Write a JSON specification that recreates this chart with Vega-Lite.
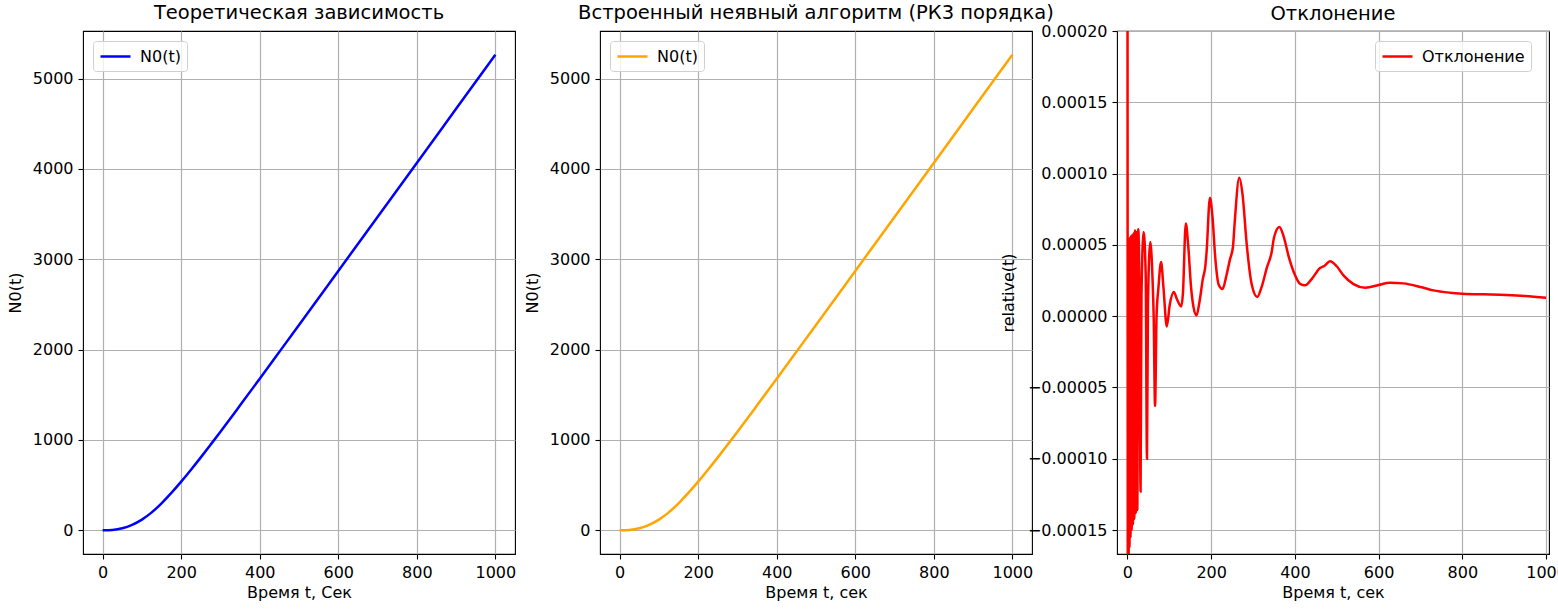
{
  "$schema": "https://vega.github.io/schema/vega-lite/v6.json",
  "padding": {"left": 6, "top": 1, "right": 0, "bottom": 0},
  "background": "white",
  "config": {
    "font": "DejaVu Sans",
    "view": {"stroke": "black", "strokeWidth": 1.1},
    "title": {"fontSize": 19.5, "font": "DejaVu Sans", "fontWeight": "normal", "color": "black", "offset": 5, "dy": -3, "anchor": "middle"},
    "axis": {
      "labelFont": "DejaVu Sans", "labelFontSize": 16, "labelColor": "black",
      "titleFont": "DejaVu Sans", "titleFontSize": 16, "titleFontWeight": "normal", "titleColor": "black",
      "tickColor": "black", "tickSize": 5, "tickWidth": 1.1,
      "gridColor": "#b0b0b0", "gridWidth": 1.2, "gridOpacity": 1,
      "domain": false, "labelPadding": 5, "titlePadding": 4,
      "labelFlush": false, "labelOverlap": false
    },
    "legend": {
      "labelFont": "DejaVu Sans", "labelFontSize": 16, "labelColor": "black",
      "symbolType": "M-1.875,0H1.875", "symbolSize": 256, "symbolStrokeWidth": 2.5,
      "symbolOffset": 7, "labelOffset": 15, "padding": 6, "cornerRadius": 3,
      "fillColor": "rgba(255,255,255,0.8)", "strokeColor": "#d0d0d0",
      "title": null
    }
  },
  "datasets": {
    "n0": [
      {"t": 0, "N0": 0}, {"t": 25, "N0": 4}, {"t": 50, "N0": 22}, {"t": 75, "N0": 60},
      {"t": 100, "N0": 118}, {"t": 125, "N0": 198}, {"t": 150, "N0": 298}, {"t": 175, "N0": 413},
      {"t": 200, "N0": 538}, {"t": 225, "N0": 670}, {"t": 250, "N0": 807}, {"t": 275, "N0": 948},
      {"t": 300, "N0": 1091}, {"t": 350, "N0": 1383}, {"t": 400, "N0": 1678}, {"t": 450, "N0": 1975},
      {"t": 500, "N0": 2273}, {"t": 600, "N0": 2871}, {"t": 700, "N0": 3469}, {"t": 800, "N0": 4067},
      {"t": 900, "N0": 4666}, {"t": 1000, "N0": 5265}
    ],
    "dev": [
      {"t": 0, "rel": 3.0e-4}, {"t": 0.8, "rel": -2.0e-4}, {"t": 1.8, "rel": 5.2e-5}, {"t": 2.8, "rel": -1.75e-4},
      {"t": 3.8, "rel": 5.4e-5}, {"t": 4.8, "rel": -1.62e-4}, {"t": 6, "rel": 5.5e-5}, {"t": 7.2, "rel": -1.55e-4},
      {"t": 8.6, "rel": 5.6e-5}, {"t": 10, "rel": -1.5e-4}, {"t": 11.5, "rel": 5.7e-5}, {"t": 13, "rel": -1.46e-4},
      {"t": 14.7, "rel": 5.8e-5}, {"t": 16.3, "rel": -1.42e-4}, {"t": 18, "rel": 6.0e-5}, {"t": 20, "rel": -1.38e-4},
      {"t": 22, "rel": 5.9e-5}, {"t": 23.5, "rel": -1.36e-4}, {"t": 25.7, "rel": 6.1e-5}, {"t": 28.5, "rel": 2.0e-5},
      {"t": 31.3, "rel": -1.23e-4}, {"t": 33.5, "rel": 1.5e-5}, {"t": 38.6, "rel": 5.9e-5}, {"t": 43.5, "rel": 3.0e-5},
      {"t": 46.6, "rel": -1.0e-4}, {"t": 49, "rel": 1.0e-5}, {"t": 54.6, "rel": 5.2e-5}, {"t": 60, "rel": 2.5e-5},
      {"t": 62.6, "rel": 0.0}, {"t": 65.9, "rel": -6.3e-5}, {"t": 69.5, "rel": 0.0}, {"t": 74, "rel": 2.0e-5},
      {"t": 80.3, "rel": 3.8e-5}, {"t": 86, "rel": 2.0e-5}, {"t": 94, "rel": -0.72e-5}, {"t": 101, "rel": 0.8e-5},
      {"t": 110.8, "rel": 1.7e-5}, {"t": 118, "rel": 1.2e-5}, {"t": 128.5, "rel": 0.68e-5}, {"t": 132.5, "rel": 1.6e-5},
      {"t": 139.3, "rel": 6.5e-5}, {"t": 145, "rel": 5.0e-5}, {"t": 152, "rel": 2.0e-5}, {"t": 158, "rel": 0.6e-5},
      {"t": 165, "rel": 0.05e-5}, {"t": 172, "rel": 1.0e-5}, {"t": 180, "rel": 2.6e-5}, {"t": 186, "rel": 3.5e-5},
      {"t": 189, "rel": 4.5e-5}, {"t": 197, "rel": 8.3e-5}, {"t": 203, "rel": 7.0e-5}, {"t": 210, "rel": 4.0e-5},
      {"t": 218, "rel": 2.2e-5}, {"t": 227, "rel": 1.9e-5}, {"t": 236, "rel": 2.8e-5}, {"t": 245, "rel": 4.0e-5},
      {"t": 252, "rel": 4.85e-5}, {"t": 256, "rel": 6.5e-5}, {"t": 267, "rel": 9.7e-5}, {"t": 275, "rel": 8.5e-5},
      {"t": 285, "rel": 5.0e-5}, {"t": 297, "rel": 2.2e-5}, {"t": 310, "rel": 1.35e-5}, {"t": 320, "rel": 2.0e-5},
      {"t": 333, "rel": 3.4e-5}, {"t": 344.5, "rel": 4.5e-5}, {"t": 350, "rel": 5.5e-5}, {"t": 363, "rel": 6.25e-5},
      {"t": 373, "rel": 5.6e-5}, {"t": 385, "rel": 4.2e-5}, {"t": 400, "rel": 2.9e-5}, {"t": 412, "rel": 2.28e-5},
      {"t": 424, "rel": 2.16e-5}, {"t": 440, "rel": 2.6e-5}, {"t": 460, "rel": 3.38e-5}, {"t": 470, "rel": 3.52e-5},
      {"t": 484, "rel": 3.85e-5}, {"t": 500, "rel": 3.5e-5}, {"t": 516, "rel": 2.86e-5}, {"t": 540, "rel": 2.25e-5},
      {"t": 568, "rel": 2.0e-5}, {"t": 600, "rel": 2.18e-5}, {"t": 627, "rel": 2.35e-5}, {"t": 659, "rel": 2.3e-5},
      {"t": 700, "rel": 2.05e-5}, {"t": 731, "rel": 1.81e-5}, {"t": 770, "rel": 1.65e-5}, {"t": 800, "rel": 1.58e-5},
      {"t": 850, "rel": 1.53e-5}, {"t": 890, "rel": 1.51e-5}, {"t": 950, "rel": 1.42e-5}, {"t": 1000, "rel": 1.3e-5}
    ]
  },
  "bounds": "flush",
  "spacing": 85,
  "resolve": {"scale": {"color": "independent", "x": "independent", "y": "independent"}, "legend": {"color": "independent"}},
  "hconcat": [
    {
      "width": 432, "height": 523,
      "title": "Теоретическая зависимость",
      "data": {"name": "n0"},
      "mark": {"type": "line", "strokeWidth": 2.5, "interpolate": "monotone"},
      "encoding": {
        "x": {"field": "t", "type": "quantitative", "title": "Время t, Сек",
              "scale": {"domain": [-50, 1050], "nice": false, "zero": false},
              "axis": {"values": [0, 200, 400, 600, 800, 1000], "format": "d"}},
        "y": {"field": "N0", "type": "quantitative", "title": "N0(t)",
              "scale": {"domain": [-263, 5528], "nice": false, "zero": false},
              "axis": {"values": [0, 1000, 2000, 3000, 4000, 5000], "format": "d", "titlePadding": 9}},
        "color": {"datum": "N0(t)", "type": "nominal", "scale": {"range": ["#0000ff"]},
                  "legend": {"orient": "none", "legendX": 10, "legendY": 10}}
      }
    },
    {
      "width": 432, "height": 523,
      "title": "Встроенный неявный алгоритм (РК3 порядка)",
      "data": {"name": "n0"},
      "mark": {"type": "line", "strokeWidth": 2.5, "interpolate": "monotone"},
      "encoding": {
        "x": {"field": "t", "type": "quantitative", "title": "Время t, сек",
              "scale": {"domain": [-50, 1050], "nice": false, "zero": false},
              "axis": {"values": [0, 200, 400, 600, 800, 1000], "format": "d"}},
        "y": {"field": "N0", "type": "quantitative", "title": "N0(t)",
              "scale": {"domain": [-263, 5528], "nice": false, "zero": false},
              "axis": {"values": [0, 1000, 2000, 3000, 4000, 5000], "format": "d", "titlePadding": 9}},
        "color": {"datum": "N0(t)", "type": "nominal", "scale": {"range": ["#ffa500"]},
                  "legend": {"orient": "none", "legendX": 10, "legendY": 10}}
      }
    },
    {
      "width": 432, "height": 523,
      "title": {"text": "Отклонение", "dy": 6},
      "data": {"name": "dev"},
      "mark": {"type": "line", "strokeWidth": 2.5, "interpolate": "monotone", "clip": true},
      "encoding": {
        "x": {"field": "t", "type": "quantitative", "title": "Время t, сек",
              "scale": {"domain": [-25, 1007], "nice": false, "zero": false},
              "axis": {"values": [0, 200, 400, 600, 800, 1000], "format": "d"}},
        "y": {"field": "rel", "type": "quantitative", "title": "relative(t)",
              "scale": {"domain": [-0.0001668, 0.0002], "nice": false, "zero": false},
              "axis": {"values": [-0.00015, -0.0001, -0.00005, 0, 0.00005, 0.0001, 0.00015, 0.0002], "format": ".5f", "titlePadding": 11}},
        "color": {"datum": "Отклонение", "type": "nominal", "scale": {"range": ["#ff0000"]},
                  "legend": {"orient": "none", "legendX": 258, "legendY": 10}}
      }
    }
  ]
}
